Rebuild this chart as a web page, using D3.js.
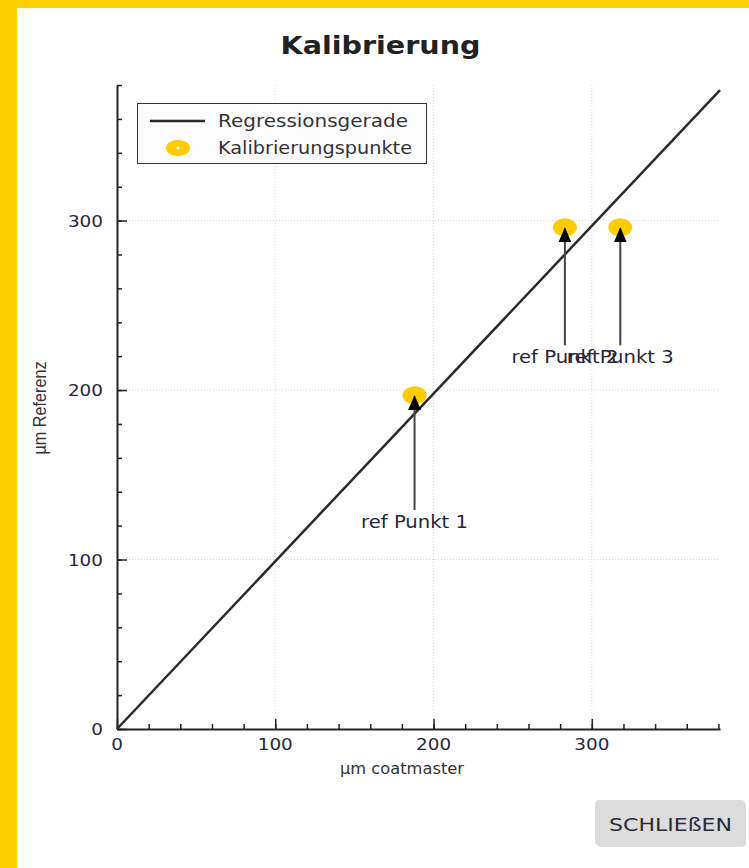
<!DOCTYPE html>
<html><head><meta charset="utf-8">
<script src="https://cdn.jsdelivr.net/npm/d3@7"></script>
<style>
html,body{margin:0;padding:0;background:#fff;}
svg{display:block;}
</style></head>
<body>
<svg id="c" width="749" height="868"></svg>
<script>
const title = "Kalibrierung";
const xLabel = "µm coatmaster";
const yLabel = "µm Referenz";
const pointNames = ["ref Punkt 1", "ref Punkt 2", "ref Punkt 3"];
const pointX = [188, 283, 318];
const pointY = [197, 296, 296];
const regressionX = [0, 381];
const regressionY = [0, 377];
const majorTicks = [0, 100, 200, 300];
const legendLabels = ["Regressionsgerade", "Kalibrierungspunkte"];
const buttonLabel = "SCHLIEßEN";

const svg = d3.select("#c");
const yellow = "#FFD100";
svg.append("rect").attr("x",0).attr("y",0).attr("width",749).attr("height",868).attr("fill",yellow);
svg.append("rect").attr("x",17).attr("y",8).attr("width",732).attr("height",860).attr("fill","#fff");

const x = d3.scaleLinear().domain([0, 381]).range([117, 720]);
const y = d3.scaleLinear().domain([0, 380]).range([729, 85]);
const txtCol = "#26263a";
const font = "'DejaVu Sans', Verdana, sans-serif";

// title
svg.append("text").attr("x",380.5).attr("y",54).attr("text-anchor","middle")
  .attr("font-family",font).attr("font-weight","bold")
  .attr("font-size",25).attr("fill","#222")
  .attr("textLength",200).attr("lengthAdjust","spacingAndGlyphs").text(title);

// grid
const g = svg.append("g");
g.selectAll(".gx").data(majorTicks.filter(d=>d>0)).join("line")
  .attr("x1",d=>x(d)).attr("x2",d=>x(d)).attr("y1",y(380)).attr("y2",y(0))
  .attr("stroke","#d8d8d8").attr("stroke-width",1).attr("stroke-dasharray","1,2");
g.selectAll(".gy").data(majorTicks.filter(d=>d>0)).join("line")
  .attr("y1",d=>y(d)).attr("y2",d=>y(d)).attr("x1",x(0)).attr("x2",x(381))
  .attr("stroke","#d8d8d8").attr("stroke-width",1).attr("stroke-dasharray","1,2");

// axes
const minor = d3.range(0, 381, 20);
svg.append("g").attr("transform",`translate(0,${y(0)})`)
  .call(d3.axisTop(x).tickValues(minor).tickSizeInner(5).tickSizeOuter(0).tickFormat(""));
const xMaj = svg.append("g").attr("transform",`translate(0,${y(0)})`)
  .call(d3.axisTop(x).tickValues(majorTicks).tickSize(10).tickFormat(""));
xMaj.select(".domain").remove();
svg.append("g").attr("transform",`translate(${x(0)},0)`)
  .call(d3.axisRight(y).tickValues(minor).tickSizeInner(5).tickSizeOuter(0).tickFormat(""));
const yMaj = svg.append("g").attr("transform",`translate(${x(0)},0)`)
  .call(d3.axisRight(y).tickValues(majorTicks).tickSize(10).tickFormat(""));
yMaj.select(".domain").remove();
svg.selectAll(".domain").attr("stroke","#222").attr("stroke-width",2);
svg.selectAll(".tick line").attr("stroke","#222").attr("stroke-width",1.5);

// tick labels
svg.append("g").selectAll("text").data(majorTicks).join("text")
  .attr("x",d=>x(d)).attr("y",y(0)+21).attr("text-anchor","middle")
  .attr("font-family",font).attr("font-size",16.5)
  .attr("textLength",d=>String(d).length*11.7).attr("lengthAdjust","spacingAndGlyphs")
  .attr("fill",txtCol).text(d=>d);
svg.append("g").selectAll("text").data(majorTicks).join("text")
  .attr("x",x(0)-14).attr("y",d=>y(d)+6).attr("text-anchor","end")
  .attr("font-family",font).attr("font-size",16.5)
  .attr("textLength",d=>String(d).length*11.7).attr("lengthAdjust","spacingAndGlyphs")
  .attr("fill",txtCol).text(d=>d);

// axis labels
svg.append("text").attr("x",340).attr("y",774)
  .attr("font-family",font).attr("font-size",16).attr("fill","#333")
  .attr("textLength",124).attr("lengthAdjust","spacingAndGlyphs").text(xLabel);
svg.append("text").attr("transform","translate(46,408) rotate(-90)").attr("text-anchor","middle")
  .attr("font-family","'Liberation Sans', Arial, sans-serif").attr("font-size",18)
  .attr("textLength",93).attr("lengthAdjust","spacingAndGlyphs")
  .attr("fill","#333").text(yLabel);

// points
const pts = pointX.map((v,i)=>({x:v,y:pointY[i],name:pointNames[i]}));
svg.append("g").selectAll("ellipse").data(pts).join("ellipse")
  .attr("cx",d=>x(d.x)).attr("cy",d=>y(d.y)).attr("rx",12).attr("ry",9).attr("fill","#FFCC00");

// regression line
const line = d3.line().x(d=>x(d[0])).y(d=>y(d[1]));
svg.append("path").datum(regressionX.map((v,i)=>[v,regressionY[i]]))
  .attr("d",line).attr("stroke","#2a2a2a").attr("stroke-width",2.5).attr("fill","none");

// arrows
const defs = svg.append("defs");
defs.append("marker").attr("id","ah").attr("viewBox","0 0 15 13").attr("refX",14).attr("refY",6.5)
  .attr("markerWidth",15).attr("markerHeight",13).attr("markerUnits","userSpaceOnUse").attr("orient","auto")
  .append("path").attr("d","M0,0 L15,6.5 L0,13 Z").attr("fill","#000");
const offsets = [133, 136, 136];
const ann = svg.append("g");
pts.forEach((d,i)=>{
  const px = x(d.x), py = y(d.y);
  ann.append("line").attr("x1",px).attr("x2",px).attr("y1",py+offsets[i]-18).attr("y2",py+1)
    .attr("stroke","#444").attr("stroke-width",2).attr("marker-end","url(#ah)");
  ann.append("text").attr("x",px-53.5).attr("y",py+offsets[i])
    .attr("font-family",font).attr("font-size",17).attr("fill",txtCol)
    .attr("textLength",107).attr("lengthAdjust","spacingAndGlyphs").text(d.name);
});

// legend
const lg = svg.append("g");
lg.append("rect").attr("x",137.5).attr("y",103.5).attr("width",289).attr("height",60)
  .attr("fill","#fcfcfc").attr("stroke","#333").attr("stroke-width",1);
lg.append("line").attr("x1",150).attr("x2",205).attr("y1",121).attr("y2",121)
  .attr("stroke","#2a2a2a").attr("stroke-width",2.5);
lg.append("ellipse").attr("cx",178).attr("cy",148).attr("rx",12).attr("ry",8).attr("fill","#FFCC00");
lg.append("circle").attr("cx",178).attr("cy",148).attr("r",1.5).attr("fill","#fff");
const legW = [190, 194];
lg.selectAll("text").data(legendLabels).join("text")
  .attr("x",218).attr("y",(d,i)=>127+i*27).attr("font-family",font).attr("font-size",17.5)
  .attr("textLength",(d,i)=>legW[i]).attr("lengthAdjust","spacingAndGlyphs")
  .attr("fill","#333").text(d=>d);

// button
svg.append("rect").attr("x",597).attr("y",802).attr("width",149).attr("height",45).attr("rx",4)
  .attr("fill","#c8c8c8").attr("opacity",0.6);
svg.append("rect").attr("x",595).attr("y",800).attr("width",150).attr("height",45).attr("rx",4)
  .attr("fill","#dcdcdc");
svg.append("text").attr("x",609).attr("y",831)
  .attr("font-family",font).attr("font-size",17).attr("fill","#2a2a3a")
  .attr("textLength",123).attr("lengthAdjust","spacingAndGlyphs").text(buttonLabel);
</script>
</body></html>
